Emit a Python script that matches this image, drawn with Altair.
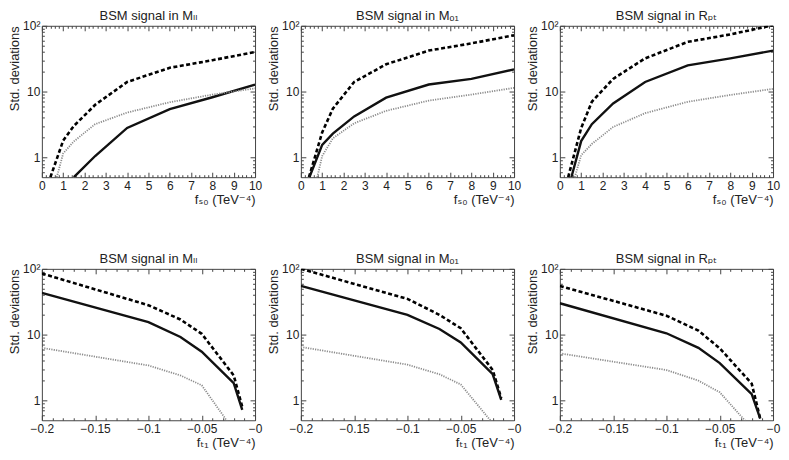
import altair as alt
import pandas as pd

# ---------------- data ----------------
# top row: x = f_S0 (TeV^-4)
LL_S0_DASH_X = [0.4, 1, 1.5, 2.5, 4, 6, 8, 10]
LL_S0_DASH_Y = [0.5, 1.8, 3.0, 6.3, 14, 23, 30, 40]
LL_S0_SOLID_X = [1.5, 2.5, 4, 6, 8, 10]
LL_S0_SOLID_Y = [0.5, 1.05, 2.8, 5.4, 8.2, 12.8]
LL_S0_DOT_X = [0.7, 1, 1.5, 2.5, 4, 6, 8, 10]
LL_S0_DOT_Y = [0.5, 1.15, 1.75, 3.2, 4.8, 6.9, 9.0, 11.2]

O1_S0_DASH_X = [0.38, 1, 1.5, 2.5, 4, 6, 8, 10]
O1_S0_DASH_Y = [0.5, 2.4, 5.5, 14, 26, 42, 54, 72]
O1_S0_SOLID_X = [0.4, 1, 1.5, 2.5, 4, 6, 8, 10]
O1_S0_SOLID_Y = [0.5, 1.55, 2.3, 4.2, 8.1, 12.8, 15.6, 21.7]
O1_S0_DOT_X = [0.77, 1, 1.5, 2.5, 4, 6, 8, 10]
O1_S0_DOT_Y = [0.5, 1.05, 1.95, 3.3, 5.1, 7.3, 9.0, 11.4]

PT_S0_DASH_X = [0.39, 1, 1.5, 2.5, 4, 6, 8, 10]
PT_S0_DASH_Y = [0.5, 2.8, 7, 15.6, 32, 57, 74, 102]
PT_S0_SOLID_X = [0.54, 1, 1.5, 2.5, 4, 6, 8, 10]
PT_S0_SOLID_Y = [0.5, 1.77, 3.2, 6.6, 14, 25, 32, 42]
PT_S0_DOT_X = [0.7, 1, 1.5, 2.5, 4, 6, 8, 10]
PT_S0_DOT_Y = [0.5, 1.08, 1.6, 2.9, 4.7, 7.0, 8.9, 11]

# bottom row: x = f_T1 (TeV^-4)
T1_X = [-0.2, -0.1, -0.07, -0.05, -0.02, -0.012]
T1_DOT_X = [-0.2, -0.1, -0.07, -0.05, -0.02]

LL_T1_DASH_Y = [85, 28, 17, 10.3, 2.4, 0.8]
LL_T1_SOLID_Y = [43, 15.5, 9.2, 5.5, 1.83, 0.72]
LL_T1_DOT_Y = [6.3, 3.4, 2.4, 1.7, 0.35]

O1_T1_DASH_Y = [100, 35, 20, 12.5, 2.9, 1.08]
O1_T1_SOLID_Y = [55, 20, 12.2, 7.6, 2.5, 1.02]
O1_T1_DOT_Y = [6.5, 3.5, 2.5, 1.75, 0.45]

PT_T1_DASH_Y = [55, 19.4, 11.5, 6.2, 1.8, 0.53]
PT_T1_SOLID_Y = [30, 10.5, 6.3, 3.7, 1.25, 0.53]
PT_T1_DOT_Y = [5.2, 2.9, 2.0, 1.33, 0.38]

TITLES = ["BSM signal in M\u2097\u2097", "BSM signal in M\u2092\u2081", "BSM signal in R\u209a\u209c"]
XTITLE_S0 = "f\u209b\u2080 (TeV\u207b\u2074)"
XTITLE_T1 = "f\u209c\u2081 (TeV\u207b\u2074)"
YTITLE = "Std. deviations"

S0_MAJOR = [0, 1, 2, 3, 4, 5, 6, 7, 8, 9, 10]
T1_MAJOR = [-0.2, -0.15, -0.1, -0.05, 0]
Y_MAJOR = [1, 10, 100]

S0_MINOR = [round(i * 0.2, 2) for i in range(51) if i % 5 != 0]
T1_MINOR = [round(-0.2 + i * 0.01, 3) for i in range(21) if i % 5 != 0]
Y_MINOR = [0.6, 0.7, 0.8, 0.9, 2, 3, 4, 5, 6, 7, 8, 9, 20, 30, 40, 50, 60, 70, 80, 90]

W, H = 214, 152
INK = "#222222"
FRAME = "#444444"


def make_df(dx, dy, sx, sy, ox, oy):
    rows = []
    for s, xs, ys in (("dash", dx, dy), ("solid", sx, sy), ("dot", ox, oy)):
        for a, b in zip(xs, ys):
            rows.append({"series": s, "x": a, "y": b})
    return pd.DataFrame(rows)


def tick_axis(orient, vals, size):
    return alt.Axis(orient=orient, values=vals, ticks=True, tickSize=size, offset=-size,
                    labels=False, domain=False, grid=False, title=None,
                    tickColor=FRAME, tickWidth=1, minExtent=0, maxExtent=0)


def panel(df, title, xdom, xmaj, xmin, xtitle, xlabexpr):
    xs = alt.Scale(domain=xdom, nice=False, zero=False)
    ys = alt.Scale(type="log", domain=[0.5, 100], nice=False)

    def X(ax):
        return alt.X("x:Q", scale=xs, axis=ax)

    def Y(ax):
        return alt.Y("y:Q", scale=ys, axis=ax)

    x_lab = alt.Axis(orient="bottom", values=xmaj, ticks=False, domain=False, grid=False,
                     labelExpr=xlabexpr, labelFlush=False, labelOverlap=False,
                     labelPadding=3, labelFontSize=12, labelColor=INK,
                     title=xtitle, titleAnchor="end", titleFontSize=13,
                     titleFontWeight="normal", titleColor=INK, titlePadding=2)
    y_lab = alt.Axis(orient="left", values=Y_MAJOR, ticks=False, domain=False, grid=False,
                     labelExpr="datum.value >= 100 ? '10\u00b2' : (datum.value >= 10 ? '10' : '1')",
                     labelFlush=False, labelOverlap=False, labelPadding=2,
                     labelFontSize=12, labelColor=INK,
                     title=YTITLE, titleAnchor="end", titleFontSize=13,
                     titleFontWeight="normal", titleColor=INK, titlePadding=1)

    base = alt.Chart(df)
    dash = base.transform_filter(alt.datum.series == "dash").mark_line(
        clip=True, color="#000000", strokeWidth=2.6, strokeDash=[4, 2.5]
    ).encode(x=X(x_lab), y=Y(y_lab))
    solid = base.transform_filter(alt.datum.series == "solid").mark_line(
        clip=True, color="#111111", strokeWidth=2.4
    ).encode(x=X(tick_axis("bottom", xmaj, 5)), y=Y(tick_axis("left", Y_MAJOR, 5)))
    dot = base.transform_filter(alt.datum.series == "dot").mark_line(
        clip=True, color="#8c8c8c", strokeWidth=1.8, strokeDash=[1.2, 1.2]
    ).encode(x=X(tick_axis("bottom", xmin, 2.5)), y=Y(tick_axis("left", Y_MINOR, 2.5)))
    ghost1 = base.mark_point(clip=True, opacity=0).encode(
        x=X(tick_axis("top", xmaj, 5)), y=Y(tick_axis("right", Y_MAJOR, 5)))
    ghost2 = base.mark_point(clip=True, opacity=0).encode(
        x=X(tick_axis("top", xmin, 2.5)), y=Y(tick_axis("right", Y_MINOR, 2.5)))

    return alt.layer(dash, solid, dot, ghost1, ghost2).resolve_axis(
        x="independent", y="independent"
    ).properties(
        width=W, height=H,
        title=alt.Title(title, fontSize=13, fontWeight="normal", color=INK,
                        offset=-3, frame="group"),
    )


S0_LAB = "format(datum.value, 'd')"
T1_LAB = "datum.value == 0 ? '\u22120' : format(datum.value, '~g')"

p1 = panel(make_df(LL_S0_DASH_X, LL_S0_DASH_Y, LL_S0_SOLID_X, LL_S0_SOLID_Y, LL_S0_DOT_X, LL_S0_DOT_Y),
           TITLES[0], [0, 10], S0_MAJOR, S0_MINOR, XTITLE_S0, S0_LAB)
p2 = panel(make_df(O1_S0_DASH_X, O1_S0_DASH_Y, O1_S0_SOLID_X, O1_S0_SOLID_Y, O1_S0_DOT_X, O1_S0_DOT_Y),
           TITLES[1], [0, 10], S0_MAJOR, S0_MINOR, XTITLE_S0, S0_LAB)
p3 = panel(make_df(PT_S0_DASH_X, PT_S0_DASH_Y, PT_S0_SOLID_X, PT_S0_SOLID_Y, PT_S0_DOT_X, PT_S0_DOT_Y),
           TITLES[2], [0, 10], S0_MAJOR, S0_MINOR, XTITLE_S0, S0_LAB)
p4 = panel(make_df(T1_X, LL_T1_DASH_Y, T1_X, LL_T1_SOLID_Y, T1_DOT_X, LL_T1_DOT_Y),
           TITLES[0], [-0.2, 0], T1_MAJOR, T1_MINOR, XTITLE_T1, T1_LAB)
p5 = panel(make_df(T1_X, O1_T1_DASH_Y, T1_X, O1_T1_SOLID_Y, T1_DOT_X, O1_T1_DOT_Y),
           TITLES[1], [-0.2, 0], T1_MAJOR, T1_MINOR, XTITLE_T1, T1_LAB)
p6 = panel(make_df(T1_X, PT_T1_DASH_Y, T1_X, PT_T1_SOLID_Y, T1_DOT_X, PT_T1_DOT_Y),
           TITLES[2], [-0.2, 0], T1_MAJOR, T1_MINOR, XTITLE_T1, T1_LAB)

top = alt.hconcat(p1, p2, p3, spacing=46, bounds="flush")
bottom = alt.hconcat(p4, p5, p6, spacing=46, bounds="flush")

chart = alt.vconcat(top, bottom, spacing=45).properties(
    padding=0
).configure(
    font="Liberation Sans, DejaVu Sans, sans-serif"
).configure_view(
    stroke=FRAME, strokeWidth=1
)

chart.save("out.html", embed_options={"renderer": "svg", "actions": False})
